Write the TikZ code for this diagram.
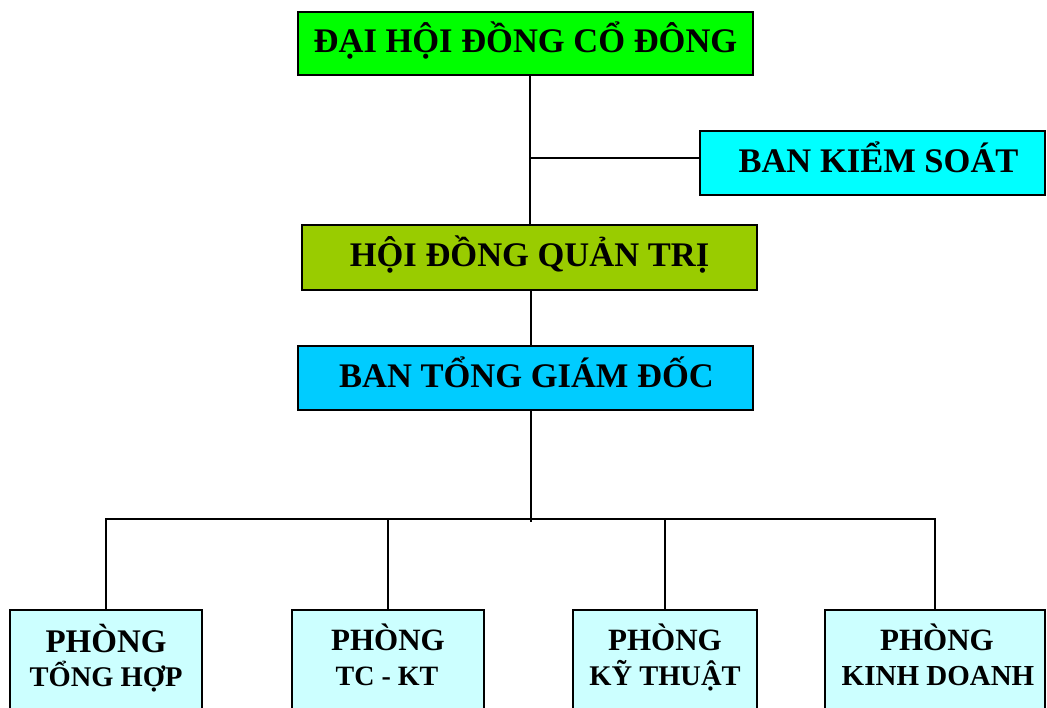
\documentclass[tikz,border=0pt]{standalone}
\usepackage{fontspec}
\setmainfont{Liberation Serif}
\definecolor{cgreen}{RGB}{0,255,0}
\definecolor{ccyan}{RGB}{0,255,255}
\definecolor{colive}{RGB}{153,204,0}
\definecolor{csky}{RGB}{0,204,255}
\definecolor{cpale}{RGB}{204,255,255}
\begin{document}
\begin{tikzpicture}[x=1pt,y=-1pt,
  box/.style={draw=black,line width=2pt,inner sep=0pt,minimum height=64pt,
    font=\fontsize{34.5}{36}\selectfont\bfseries,text height=19pt,text depth=0pt},
  dept/.style={draw=black,line width=2pt,inner sep=0pt,minimum height=110pt,fill=cpale},
  lbl/.style={anchor=base,inner sep=0pt,font=\bfseries},
  conn/.style={line width=1.6pt}]
\clip (0,0) rectangle (1047,708);
\fill[white] (0,0) rectangle (1047,708);
% top boxes
\node[box,fill=cgreen,minimum width=455pt,minimum height=63pt] (dh) at (525.5,43.5) {ĐẠI HỘI ĐỒNG CỔ ĐÔNG};
\node[box,fill=ccyan,minimum width=345pt] (bks) at (872.5,163) {\hspace*{12pt}BAN KIỂM SOÁT};
\node[box,fill=colive,minimum width=455pt,minimum height=65pt] (hd) at (529.5,257.5) {HỘI ĐỒNG QUẢN TRỊ};
\node[box,fill=csky,minimum width=455pt] (tgd) at (525.5,378.5) {\hspace*{2pt}BAN TỔNG GIÁM ĐỐC};
% departments
\node[dept,minimum width=192pt] (p1) at (106,665) {};
\node[dept,minimum width=192pt] (p2) at (388,665) {};
\node[dept,minimum width=184pt] (p3) at (665,665) {};
\node[dept,minimum width=220pt] (p4) at (935,665) {};
\node[lbl,font=\fontsize{33}{35}\selectfont\bfseries] (t1a) at (106,652) {PHÒNG};
\node[lbl,font=\fontsize{28.5}{30}\selectfont\bfseries] (t1b) at (106,686) {TỔNG HỢP};
\node[lbl,font=\fontsize{31}{33}\selectfont\bfseries] (t2a) at (388,650) {PHÒNG};
\node[lbl,font=\fontsize{28}{30}\selectfont\bfseries] (t2b) at (387,685) {TC - KT};
\node[lbl,font=\fontsize{31}{33}\selectfont\bfseries] (t3a) at (665,650) {PHÒNG};
\node[lbl,font=\fontsize{28.5}{30}\selectfont\bfseries] (t3b) at (665,685) {KỸ THUẬT};
\node[lbl,font=\fontsize{31}{33}\selectfont\bfseries] (t4a) at (937,650) {PHÒNG};
\node[lbl,font=\fontsize{29}{31}\selectfont\bfseries] (t4b) at (938,685) {KINH DOANH};
% connectors
\coordinate (j1) at (530,158);
\coordinate (j2) at (531,300);
\coordinate (bus) at (531,519);
\coordinate (busend) at (531,522);
\draw[conn] (dh.south -| j1) -- (hd.north -| j1);
\draw[conn] (j1) -- (bks.west |- j1);
\draw[conn] (hd.south -| j2) -- (tgd.north -| j2);
\draw[conn] (tgd.south -| bus) -- (busend);
\draw[conn] (p1.north) |- (bus) -| (p4.north);
\draw[conn] (p2.north) -- (p2.north |- bus);
\draw[conn] (p3.north) -- (p3.north |- bus);
\end{tikzpicture}
\end{document}
